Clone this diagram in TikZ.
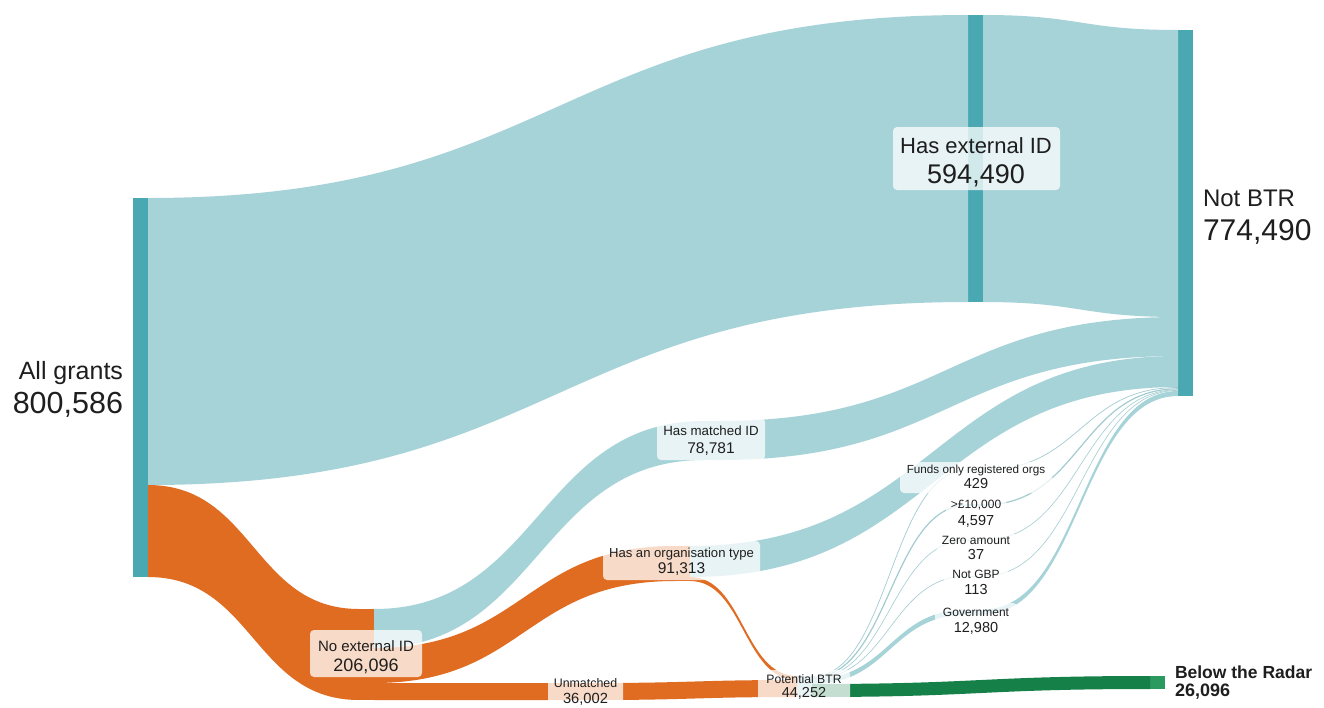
\documentclass[tikz,border=0pt]{standalone}
\usepackage{fontspec}
\setmainfont{Liberation Sans}
\usetikzlibrary{calc}
\definecolor{flowT}{HTML}{A6D3D8}
\definecolor{barT}{HTML}{4AA8B2}
\definecolor{flowO}{HTML}{E06C22}
\definecolor{flowG}{HTML}{168049}
\definecolor{barG}{HTML}{2A9A5E}
\definecolor{txt}{HTML}{1E1E1E}
% band between two node sides: left anchor, top off, bottom off, right anchor, top off, bottom off, colour
\newcommand\flowband[7]{%
  \fill[#7] let \p1=($(#1)+(0,#2)$), \p2=($(#1)+(0,#3)$), \p3=($(#4)+(0,#5)$), \p4=($(#4)+(0,#6)$), \p5=($(\p1)!.5!(\p3)$) in
    (\p1) .. controls (\x5,\y1) and (\x5,\y3) .. (\p3) -- (\p4) .. controls (\x5,\y4) and (\x5,\y2) .. (\p2) -- cycle;}
% thin flow: left anchor, off, right anchor, off, width
\newcommand\thinflow[5]{%
  \draw[flowT!92!gray, line width=#5] let \p1=($(#1)+(0,#2)$), \p3=($(#3)+(0,#4)$), \p5=($(\p1)!.5!(\p3)$) in
    (\p1) .. controls (\x5,\y1) and (\x5,\y3) .. (\p3);}
\tikzset{
  bar/.style={rectangle, inner sep=0pt, outer sep=0pt, minimum width=15pt, draw=none},
  lblbox/.style={rectangle, fill=white, fill opacity=0.75, rounded corners=4pt, draw=none, inner sep=0pt},
  lt/.style={text=txt, inner sep=0pt, outer sep=0pt, anchor=base},
  small/.style={lt, font=\fontsize{12}{14}\selectfont},
  smallnum/.style={lt, font=\fontsize{14.5}{16}\selectfont},
}
\begin{document}
\begin{tikzpicture}[x=1pt, y=-1pt]
\useasboundingbox (0,0) rectangle (1324,707);
\fill[white] (0,0) rectangle (1324,707);

% ---- bars (nodes)
\node[bar, minimum height=379pt, fill=barT] (AG) at (140.5,387.5) {};
\node[bar, minimum height=287pt, fill=barT] (HE) at (975.5,158.5) {};
\node[bar, minimum height=366pt, fill=barT] (NB) at (1185.5,213) {};
\node[bar, minimum height=91pt, fill=flowO] (NE) at (366.5,654.5) {};
\node[bar, minimum height=39pt, fill=flowT] (HM) at (711.5,440.5) {};
\node[bar, minimum height=35pt, fill=flowO] (OT) at (682.5,563.5) {};
\node[bar, minimum height=17pt, fill=flowO] (UM) at (584.5,691.5) {};
\node[bar, minimum height=21pt, fill=flowT] (PB) at (804.5,686.5) {};
\node[bar, minimum height=13pt, fill=barG] (BR) at (1157.5,682.5) {};
\node[bar, minimum height=1pt, fill=flowT] (FU) at (975.5,470) {};
\node[bar, minimum height=2pt, fill=flowT] (TK) at (975.5,505) {};
\node[bar, minimum height=1pt, fill=flowT] (ZA) at (975.5,540) {};
\node[bar, minimum height=1pt, fill=flowT] (NG) at (975.5,576) {};
\node[bar, minimum height=5pt, fill=flowT] (GV) at (975.5,612) {};

% ---- flows
\flowband{AG.north east}{0}{287}{HE.north west}{0}{287}{flowT}
\flowband{HE.north east}{0}{287}{NB.north west}{0}{287}{flowT}
\flowband{AG.north east}{287}{379}{NE.north west}{0}{91}{flowO}
\flowband{NE.north east}{0}{39}{HM.north west}{0}{39}{flowT}
\flowband{NE.north east}{39}{74}{OT.north west}{0}{35}{flowO}
\flowband{NE.north east}{74}{91}{UM.north west}{0}{17}{flowO}
\flowband{HM.north east}{0}{39}{NB.north west}{287}{326}{flowT}
\flowband{OT.north east}{0}{31}{NB.north west}{326}{357}{flowT}
\flowband{OT.north east}{31}{35}{PB.north west}{0}{4}{flowO}
\flowband{UM.north east}{0}{17}{PB.north west}{4}{21}{flowO}
\flowband{PB.north east}{8}{21}{BR.north west}{0}{13}{flowG}
\flowband{PB.north east}{3}{8}{GV.north west}{0}{5}{flowT}
\flowband{GV.north east}{0}{5}{NB.north west}{361}{366}{flowT}
\thinflow{PB.north east}{0.5}{FU.west}{0}{0.7pt}
\thinflow{PB.north east}{1.5}{TK.west}{0}{1.2pt}
\thinflow{PB.north east}{2.3}{ZA.west}{0}{0.6pt}
\thinflow{PB.north east}{2.8}{NG.west}{0}{0.6pt}
\thinflow{FU.east}{0}{NB.north west}{357.5}{0.7pt}
\thinflow{TK.east}{0}{NB.north west}{358.8}{1.2pt}
\thinflow{ZA.east}{0}{NB.north west}{359.8}{0.6pt}
\thinflow{NG.east}{0}{NB.north west}{360.4}{0.6pt}

% ---- label boxes
\node[lblbox, minimum width=167pt, minimum height=63pt] (HEbox) at (976.5,158.5) {};
\node[lblbox, minimum width=112pt, minimum height=47pt] (NEbox) at (366,653.5) {};
\node[lblbox, minimum width=108pt, minimum height=42pt] (HMbox) at (711,439) {};
\node[lblbox, minimum width=157pt, minimum height=39pt] (OTbox) at (681.5,560.5) {};
\node[lblbox, minimum width=75pt, minimum height=34pt] (UMbox) at (585.5,689) {};
\node[lblbox, minimum width=92pt, minimum height=31pt] (PBbox) at (804,685.5) {};
\node[lblbox, minimum width=152pt, minimum height=31pt] (FUbox) at (976,477.5) {};
\node[lblbox, minimum width=60pt, minimum height=33pt] (TKbox) at (976,512.5) {};
\node[lblbox, minimum width=78pt, minimum height=31pt] (ZAbox) at (976,547.5) {};
\node[lblbox, minimum width=64pt, minimum height=31pt] (NGbox) at (976,582) {};
\node[lblbox, minimum width=82pt, minimum height=33pt] (GVbox) at (976,619.5) {};

% ---- texts
\node[lt, anchor=base east, font=\fontsize{25}{28}\selectfont] (AGt) at (123,379) {All grants};
\node[lt, anchor=base east, font=\fontsize{30.5}{33}\selectfont] (AGn) at (123,413) {800,586};
\node[lt, font=\fontsize{22}{24}\selectfont] (HEt) at (976,153) {Has external ID};
\node[lt, font=\fontsize{27}{29}\selectfont] (HEn) at (976,183) {594,490};
\node[lt, anchor=base west, font=\fontsize{24}{26}\selectfont] (NBt) at (1203,206) {Not BTR};
\node[lt, anchor=base west, font=\fontsize{30}{32}\selectfont] (NBn) at (1203,240) {774,490};
\node[lt, font=\fontsize{15}{17}\selectfont] (NEt) at (366,651) {No external ID};
\node[lt, font=\fontsize{18}{20}\selectfont] (NEn) at (366,671) {206,096};
\node[lt, font=\fontsize{13.3}{15}\selectfont] (HMt) at (711,435) {Has matched ID};
\node[lt, font=\fontsize{15.5}{17}\selectfont] (HMn) at (711,453) {78,781};
\node[lt, font=\fontsize{13.1}{15}\selectfont] (OTt) at (681.5,557) {Has an organisation type};
\node[lt, font=\fontsize{15.5}{17}\selectfont] (OTn) at (681.5,573) {91,313};
\node[small, font=\fontsize{12.4}{14}\selectfont] (UMt) at (585.5,687) {Unmatched};
\node[smallnum, font=\fontsize{14.7}{16}\selectfont] (UMn) at (585.5,703) {36,002};
\node[small, font=\fontsize{12.2}{14}\selectfont] (PBt) at (804,683) {Potential BTR};
\node[smallnum, font=\fontsize{14.5}{16}\selectfont] (PBn) at (804,697.5) {44,252};
\node[small, font=\fontsize{11.7}{14}\selectfont] (FUt) at (976,473) {Funds only registered orgs};
\node[smallnum] (FUn) at (976,488) {429};
\node[small] (TKt) at (976,508) {>£10,000};
\node[smallnum] (TKn) at (976,525) {4,597};
\node[small] (ZAt) at (976,544) {Zero amount};
\node[smallnum] (ZAn) at (976,559) {37};
\node[small] (NGt) at (976,578) {Not GBP};
\node[smallnum] (NGn) at (976,594) {113};
\node[small] (GVt) at (976,616) {Government};
\node[smallnum] (GVn) at (976,632) {12,980};
\node[lt, anchor=base west, font=\fontsize{17.5}{19}\selectfont\bfseries] (BRt) at (1175,678) {Below the Radar};
\node[lt, anchor=base west, font=\fontsize{18}{20}\selectfont\bfseries] (BRn) at (1175,696) {26,096};
\end{tikzpicture}
\end{document}
